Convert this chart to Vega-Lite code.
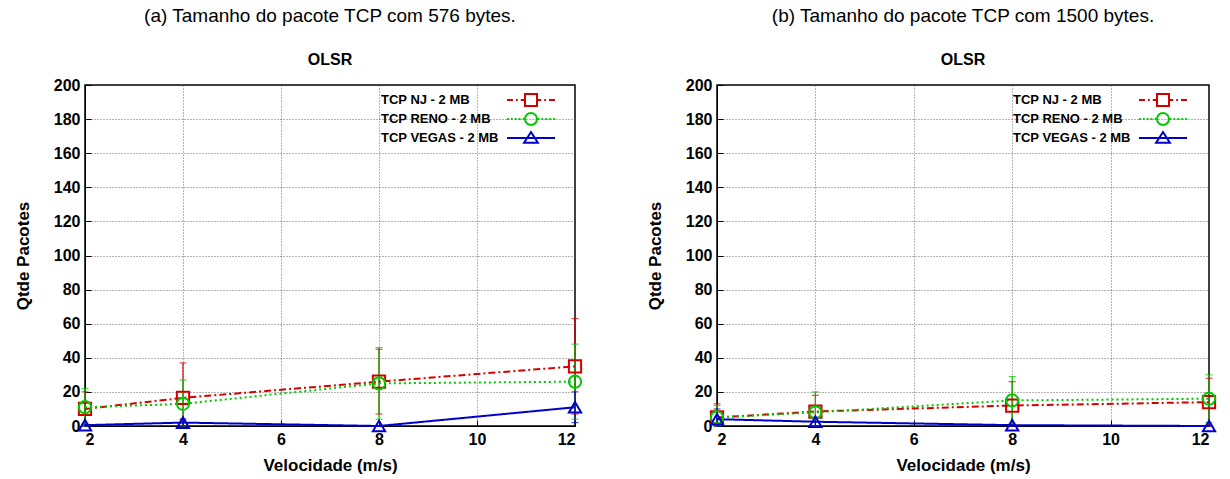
{
  "$schema": "https://vega.github.io/schema/vega-lite/v6.json",
  "background": "white",
  "padding": {"left": 13, "top": 6, "right": 16, "bottom": 0},
  "spacing": 59,
  "datasets": {
    "pts": [
      {"panel": "a", "proto": "TCP NJ - 2 MB", "v": 2, "mean": 10, "lo": 0, "hi": 20},
      {"panel": "a", "proto": "TCP NJ - 2 MB", "v": 4, "mean": 16.5, "lo": 0, "hi": 37},
      {"panel": "a", "proto": "TCP NJ - 2 MB", "v": 8, "mean": 26, "lo": 7, "hi": 45},
      {"panel": "a", "proto": "TCP NJ - 2 MB", "v": 12, "mean": 35, "lo": 7, "hi": 63},
      {"panel": "a", "proto": "TCP RENO - 2 MB", "v": 2, "mean": 11, "lo": 0, "hi": 22},
      {"panel": "a", "proto": "TCP RENO - 2 MB", "v": 4, "mean": 13, "lo": 0, "hi": 27},
      {"panel": "a", "proto": "TCP RENO - 2 MB", "v": 8, "mean": 25, "lo": 4, "hi": 46},
      {"panel": "a", "proto": "TCP RENO - 2 MB", "v": 12, "mean": 26, "lo": 4, "hi": 48},
      {"panel": "a", "proto": "TCP VEGAS - 2 MB", "v": 2, "mean": 0.5, "lo": 0, "hi": 1},
      {"panel": "a", "proto": "TCP VEGAS - 2 MB", "v": 4, "mean": 2, "lo": 0, "hi": 4},
      {"panel": "a", "proto": "TCP VEGAS - 2 MB", "v": 8, "mean": 0, "lo": 0, "hi": 0},
      {"panel": "a", "proto": "TCP VEGAS - 2 MB", "v": 12, "mean": 11, "lo": 2, "hi": 20},
      {"panel": "b", "proto": "TCP NJ - 2 MB", "v": 2, "mean": 5, "lo": 0, "hi": 13},
      {"panel": "b", "proto": "TCP NJ - 2 MB", "v": 4, "mean": 8.5, "lo": 0, "hi": 18},
      {"panel": "b", "proto": "TCP NJ - 2 MB", "v": 8, "mean": 12, "lo": 0, "hi": 26},
      {"panel": "b", "proto": "TCP NJ - 2 MB", "v": 12, "mean": 14, "lo": 0, "hi": 28},
      {"panel": "b", "proto": "TCP RENO - 2 MB", "v": 2, "mean": 5, "lo": 0, "hi": 12},
      {"panel": "b", "proto": "TCP RENO - 2 MB", "v": 4, "mean": 8, "lo": 0, "hi": 20},
      {"panel": "b", "proto": "TCP RENO - 2 MB", "v": 8, "mean": 15, "lo": 1, "hi": 29},
      {"panel": "b", "proto": "TCP RENO - 2 MB", "v": 12, "mean": 16, "lo": 2, "hi": 30},
      {"panel": "b", "proto": "TCP VEGAS - 2 MB", "v": 2, "mean": 4, "lo": 0, "hi": 10},
      {"panel": "b", "proto": "TCP VEGAS - 2 MB", "v": 4, "mean": 2.5, "lo": 0, "hi": 5},
      {"panel": "b", "proto": "TCP VEGAS - 2 MB", "v": 8, "mean": 0.5, "lo": 0, "hi": 1},
      {"panel": "b", "proto": "TCP VEGAS - 2 MB", "v": 12, "mean": 0, "lo": 0, "hi": 0}
    ]
  },
  "config": {
    "font": "Liberation Sans",
    "view": {"stroke": "black", "strokeWidth": 1.5},
    "axis": {
      "labelFont": "Liberation Sans",
      "labelFontWeight": "bold",
      "labelFontSize": 16,
      "labelColor": "black",
      "labelOverlap": false,
      "titleFont": "Liberation Sans",
      "titleFontWeight": "bold",
      "titleFontSize": 17,
      "titleColor": "black",
      "domainColor": "black",
      "tickColor": "black",
      "tickSize": -6,
      "gridColor": "#444",
      "gridDash": [1, 2],
      "gridWidth": 1,
      "gridOpacity": 0.8
    },
    "axisX": {"labelPadding": 11, "titlePadding": 10},
    "axisY": {"labelPadding": 11, "titlePadding": 21},
    "title": {
      "font": "Liberation Sans",
      "fontSize": 19,
      "fontWeight": "normal",
      "color": "black",
      "subtitleFont": "Liberation Sans",
      "subtitleFontSize": 16,
      "subtitleFontWeight": "bold",
      "subtitleColor": "black",
      "subtitlePadding": 26,
      "offset": 9,
      "frame": "group",
      "anchor": "middle"
    },
    "legend": {
      "orient": "none",
      "legendX": 439,
      "legendY": 8,
      "labelFont": "Liberation Sans",
      "labelFontWeight": "bold",
      "labelFontSize": 13,
      "labelColor": "black",
      "labelAlign": "left",
      "labelOffset": -157,
      "symbolSize": 144,
      "symbolStrokeWidth": 2,
      "symbolFillColor": "transparent",
      "symbolOpacity": 1,
      "rowPadding": -1,
      "title": null
    }
  },
  "resolve": {"legend": {"color": "independent"}},
  "hconcat": [
    {
      "title": {"text": "(a) Tamanho do pacote TCP com 576 bytes.", "subtitle": "OLSR"},
      "width": 490,
      "height": 341,
      "data": {"name": "pts"},
      "transform": [{"filter": "datum.panel === 'a'"}],
      "encoding": {
        "x": {"field": "v", "type": "quantitative", "title": "Velocidade (m/s)",
              "scale": {"domain": [2, 12], "nice": false, "zero": false},
              "axis": {"values": [2, 4, 6, 8, 10, 12]}},
        "color": {"field": "proto", "type": "nominal",
                  "scale": {"domain": ["TCP NJ - 2 MB", "TCP RENO - 2 MB", "TCP VEGAS - 2 MB"],
                            "range": ["#d40000", "#00c800", "#0000c8"]},
                  "legend": {
                    "encode": {
                      "symbols": {
                        "update": {
                          "shape": {"signal": "datum.value === 'TCP NJ - 2 MB' ? 'M-4,0H-3M-2.5,0H-2.2M-1.7,0H-1M1,0H1.7M2.2,0H2.5M3,0H4M-1,-1H1V1H-1Z' : datum.value === 'TCP RENO - 2 MB' ? 'M-4,0H-3.7M-3.35,0H-3.05M-2.7,0H-2.4M-2.05,0H-1.75M-1.4,0H-1.1M1.1,0H1.4M1.75,0H2.05M2.4,0H2.7M3.05,0H3.35M3.7,0H4M1,0A1,1 0 1,1 -1,0A1,1 0 1,1 1,0Z' : 'M-4,0H4M0,-1L1.15,0.8H-1.15Z'"},
                          "stroke": {"signal": "datum.value === 'TCP NJ - 2 MB' ? '#d40000' : datum.value === 'TCP RENO - 2 MB' ? '#00c800' : '#0000c8'"},
                          "fill": {"value": "transparent"},
                          "fillOpacity": {"value": 0},
                          "strokeWidth": {"value": 2},
                          "strokeDash": {"value": []},
                          "opacity": {"value": 1}
                        }
                      }
                    }
                  }}
      },
      "layer": [
        {
          "mark": {"type": "rule", "strokeWidth": 1.2},
          "encoding": {
            "y": {"field": "lo", "type": "quantitative", "title": "Qtde Pacotes",
                  "scale": {"domain": [0, 200], "nice": false},
                  "axis": {"values": [0, 20, 40, 60, 80, 100, 120, 140, 160, 180, 200], "tickCount": 11}},
            "y2": {"field": "hi"}
          }
        },
        {
          "mark": {"type": "tick", "orient": "horizontal", "thickness": 1.2, "size": 7},
          "encoding": {"y": {"field": "hi", "type": "quantitative", "title": "Qtde Pacotes",
                             "axis": {"values": [0, 20, 40, 60, 80, 100, 120, 140, 160, 180, 200], "tickCount": 11}}}
        },
        {
          "mark": {"type": "tick", "orient": "horizontal", "thickness": 1.2, "size": 7},
          "encoding": {"y": {"field": "lo", "type": "quantitative", "title": "Qtde Pacotes",
                             "axis": {"values": [0, 20, 40, 60, 80, 100, 120, 140, 160, 180, 200], "tickCount": 11}}}
        },
        {
          "mark": {"type": "line", "strokeWidth": 2},
          "encoding": {
            "y": {"field": "mean", "type": "quantitative", "title": "Qtde Pacotes",
                  "axis": {"values": [0, 20, 40, 60, 80, 100, 120, 140, 160, 180, 200], "tickCount": 11}},
            "strokeDash": {"field": "proto", "type": "nominal", "legend": null,
                           "scale": {"domain": ["TCP NJ - 2 MB", "TCP RENO - 2 MB", "TCP VEGAS - 2 MB"],
                                     "range": [[7, 3, 2, 3], [2, 3], [1, 0]]}}
          }
        },
        {
          "mark": {"type": "point", "filled": false, "size": 150, "strokeWidth": 2, "opacity": 1},
          "encoding": {
            "y": {"field": "mean", "type": "quantitative", "title": "Qtde Pacotes",
                  "axis": {"values": [0, 20, 40, 60, 80, 100, 120, 140, 160, 180, 200], "tickCount": 11}},
            "shape": {"field": "proto", "type": "nominal", "legend": null,
                      "scale": {"domain": ["TCP NJ - 2 MB", "TCP RENO - 2 MB", "TCP VEGAS - 2 MB"],
                                "range": ["square", "circle", "triangle-up"]}}
          }
        }
      ]
    },
    {
      "title": {"text": "(b) Tamanho do pacote TCP com 1500 bytes.", "subtitle": "OLSR"},
      "width": 492,
      "height": 341,
      "data": {"name": "pts"},
      "transform": [{"filter": "datum.panel === 'b'"}],
      "encoding": {
        "x": {"field": "v", "type": "quantitative", "title": "Velocidade (m/s)",
              "scale": {"domain": [2, 12], "nice": false, "zero": false},
              "axis": {"values": [2, 4, 6, 8, 10, 12]}},
        "color": {"field": "proto", "type": "nominal",
                  "scale": {"domain": ["TCP NJ - 2 MB", "TCP RENO - 2 MB", "TCP VEGAS - 2 MB"],
                            "range": ["#d40000", "#00c800", "#0000c8"]},
                  "legend": {
                    "encode": {
                      "symbols": {
                        "update": {
                          "shape": {"signal": "datum.value === 'TCP NJ - 2 MB' ? 'M-4,0H-3M-2.5,0H-2.2M-1.7,0H-1M1,0H1.7M2.2,0H2.5M3,0H4M-1,-1H1V1H-1Z' : datum.value === 'TCP RENO - 2 MB' ? 'M-4,0H-3.7M-3.35,0H-3.05M-2.7,0H-2.4M-2.05,0H-1.75M-1.4,0H-1.1M1.1,0H1.4M1.75,0H2.05M2.4,0H2.7M3.05,0H3.35M3.7,0H4M1,0A1,1 0 1,1 -1,0A1,1 0 1,1 1,0Z' : 'M-4,0H4M0,-1L1.15,0.8H-1.15Z'"},
                          "stroke": {"signal": "datum.value === 'TCP NJ - 2 MB' ? '#d40000' : datum.value === 'TCP RENO - 2 MB' ? '#00c800' : '#0000c8'"},
                          "fill": {"value": "transparent"},
                          "fillOpacity": {"value": 0},
                          "strokeWidth": {"value": 2},
                          "strokeDash": {"value": []},
                          "opacity": {"value": 1}
                        }
                      }
                    }
                  }}
      },
      "layer": [
        {
          "mark": {"type": "rule", "strokeWidth": 1.2},
          "encoding": {
            "y": {"field": "lo", "type": "quantitative", "title": "Qtde Pacotes",
                  "scale": {"domain": [0, 200], "nice": false},
                  "axis": {"values": [0, 20, 40, 60, 80, 100, 120, 140, 160, 180, 200], "tickCount": 11}},
            "y2": {"field": "hi"}
          }
        },
        {
          "mark": {"type": "tick", "orient": "horizontal", "thickness": 1.2, "size": 7},
          "encoding": {"y": {"field": "hi", "type": "quantitative", "title": "Qtde Pacotes",
                             "axis": {"values": [0, 20, 40, 60, 80, 100, 120, 140, 160, 180, 200], "tickCount": 11}}}
        },
        {
          "mark": {"type": "tick", "orient": "horizontal", "thickness": 1.2, "size": 7},
          "encoding": {"y": {"field": "lo", "type": "quantitative", "title": "Qtde Pacotes",
                             "axis": {"values": [0, 20, 40, 60, 80, 100, 120, 140, 160, 180, 200], "tickCount": 11}}}
        },
        {
          "mark": {"type": "line", "strokeWidth": 2},
          "encoding": {
            "y": {"field": "mean", "type": "quantitative", "title": "Qtde Pacotes",
                  "axis": {"values": [0, 20, 40, 60, 80, 100, 120, 140, 160, 180, 200], "tickCount": 11}},
            "strokeDash": {"field": "proto", "type": "nominal", "legend": null,
                           "scale": {"domain": ["TCP NJ - 2 MB", "TCP RENO - 2 MB", "TCP VEGAS - 2 MB"],
                                     "range": [[7, 3, 2, 3], [2, 3], [1, 0]]}}
          }
        },
        {
          "mark": {"type": "point", "filled": false, "size": 150, "strokeWidth": 2, "opacity": 1},
          "encoding": {
            "y": {"field": "mean", "type": "quantitative", "title": "Qtde Pacotes",
                  "axis": {"values": [0, 20, 40, 60, 80, 100, 120, 140, 160, 180, 200], "tickCount": 11}},
            "shape": {"field": "proto", "type": "nominal", "legend": null,
                      "scale": {"domain": ["TCP NJ - 2 MB", "TCP RENO - 2 MB", "TCP VEGAS - 2 MB"],
                                "range": ["square", "circle", "triangle-up"]}}
          }
        }
      ]
    }
  ]
}
